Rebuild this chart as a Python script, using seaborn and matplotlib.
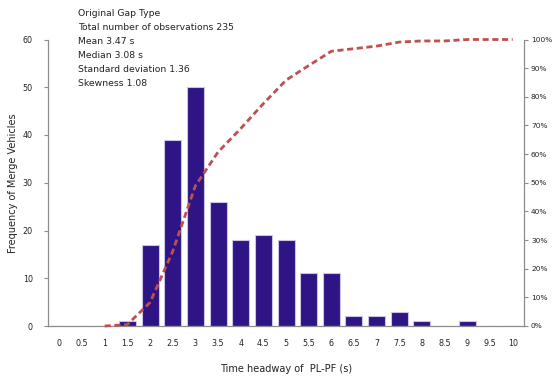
import numpy as np
import pandas as pd
import matplotlib
matplotlib.use("Agg")
import matplotlib.pyplot as plt
from matplotlib.ticker import FuncFormatter, MultipleLocator
import seaborn as sns

categories = ["0", "0.5", "1", "1.5", "2", "2.5", "3", "3.5", "4", "4.5", "5",
              "5.5", "6", "6.5", "7", "7.5", "8", "8.5", "9", "9.5", "10"]
frequency = [0, 0, 0, 1, 17, 39, 50, 26, 18, 19, 18, 11, 11, 2, 2, 3, 1, 0, 1, 0, 0]
cumulative_pct = [np.nan, np.nan, 0, 0.5, 8.2, 26, 48.9, 60.7, 68.9, 77.6, 85.8,
                  90.9, 95.9, 96.8, 97.7, 99.1, 99.5, 99.5, 100, 100, 100]
stats_lines = ["Original Gap Type", "Total number of observations 235", "Mean 3.47 s",
               "Median 3.08 s", "Standard deviation 1.36", "Skewness 1.08"]

sns.set_style("white")
plt.rcParams['font.family'] = ['DejaVu Sans']

df = pd.DataFrame({"headway": categories, "freq": frequency})

fig = plt.figure(figsize=(5.55, 3.82), dpi=100)
ax = fig.add_axes([48/555, 1-326/382, (524-48)/555, (326-39.5)/382])

sns.barplot(data=df, x="headway", y="freq", order=categories, color="#2E1485",
            width=0.75, edgecolor="#C9C3E6", linewidth=0.8, saturation=1, ax=ax)
ax.set_xlim(-0.5, len(categories) - 0.5)
ax.set_ylim(0, 60)
ax.yaxis.set_major_locator(MultipleLocator(10))

grey = "#8C8C8C"
for s in ["top", "right"]:
    ax.spines[s].set_visible(False)
for s in ["left", "bottom"]:
    ax.spines[s].set_color(grey)
    ax.spines[s].set_linewidth(0.9)

ax.tick_params(axis="x", which="major", length=0, labelsize=5.8, pad=9, colors="#222222")
ax.set_xticks(np.arange(-0.5, len(categories), 1.0), minor=True)
ax.tick_params(axis="x", which="minor", length=4, color=grey, width=0.8, direction="out")
ax.tick_params(axis="y", length=3, color=grey, width=0.8, labelsize=5.8, colors="#222222",
               left=True, pad=8)

ax.set_xlabel("Time headway of  PL-PF (s)", fontsize=7, labelpad=12, color="#222222")
ax.set_ylabel("Frequency of Merge Vehicles", fontsize=7, labelpad=3, color="#222222")

ax2 = ax.twinx()
ax2.set_position(ax.get_position())
ax2.plot(np.arange(len(categories)), cumulative_pct, color="#C0504D",
         linestyle=(0, (2.2, 1.3)), linewidth=2.0, clip_on=False)
ax2.set_ylim(0, 100)
ax2.yaxis.set_major_locator(MultipleLocator(10))
ax2.yaxis.set_major_formatter(FuncFormatter(lambda v, p: f"{int(v)}%"))
for s in ["top", "left", "bottom"]:
    ax2.spines[s].set_visible(False)
ax2.spines["right"].set_color(grey)
ax2.spines["right"].set_linewidth(0.9)
ax2.tick_params(axis="y", length=3, color=grey, width=0.8, labelsize=5.3, colors="#222222",
                right=True, pad=2)

for i, line in enumerate(stats_lines):
    fig.text(78/555, 1 - (13 + i*14.2)/382, line, fontsize=6.7, color="#222222",
             ha="left", va="center")

fig.savefig("out.png", dpi=100)
